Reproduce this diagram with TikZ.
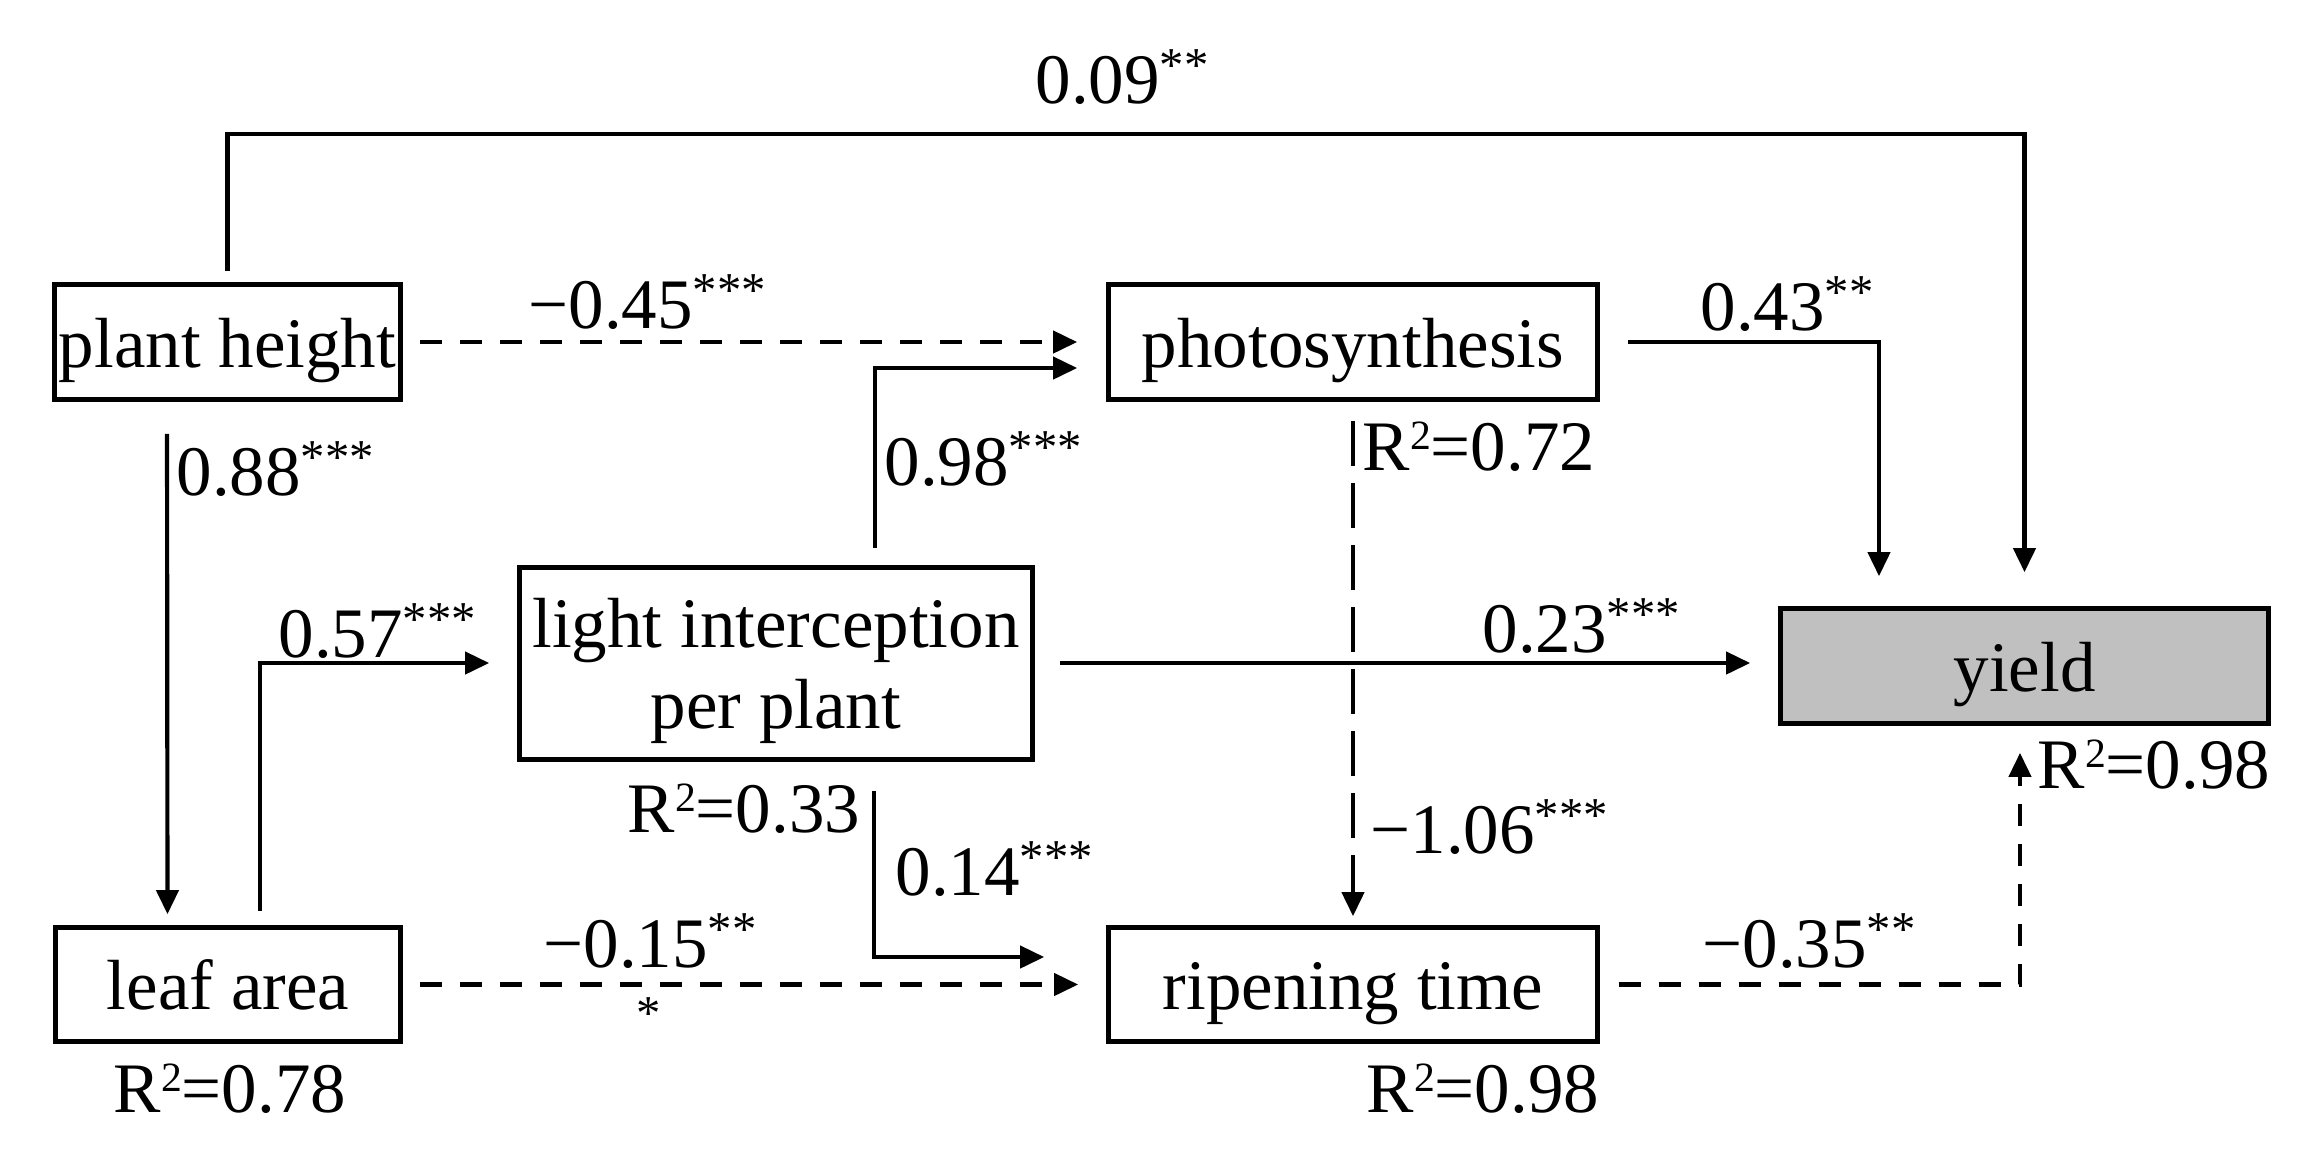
\documentclass[tikz,border=0pt]{standalone}
\usepackage{fontspec}
\setmainfont{Liberation Serif}
\usetikzlibrary{arrows.meta}
\definecolor{yieldgray}{HTML}{C0C0C0}
\newcommand\sig[1]{\raisebox{6.5pt}{\fontsize{14.6}{15}\selectfont #1}}
\newcommand\rsq{R\raisebox{6.3pt}{\fontsize{12.5}{12.5}\selectfont 2}}
\begin{document}
\begin{tikzpicture}[x=0.3pt,y=-0.3pt,
  font=\fontsize{21.3}{24.3}\selectfont,
  box/.style={draw, line width=1.5pt, inner sep=0pt, text height=15pt, text depth=0pt, align=center},
  lbl/.style={anchor=base west, inner sep=0pt},
  conn/.style={line width=1.25pt, -{Triangle[length=7.2pt,width=6.6pt]}},
  dsh/.style={conn, dash pattern=on 6.6pt off 5.4pt},
  ldsh/.style={conn, dash pattern=on 13.5pt off 5.1pt}]
\useasboundingbox (0,0) rectangle (2319,1157);

% boxes
\node[box, minimum width=103.7pt, minimum height=34.4pt] (PH) at (227.5,342) {plant height};
\node[box, minimum width=103.4pt, minimum height=34.1pt] (LA) at (228,984.5) {leaf area};
\node[box, text height=39.3pt, minimum width=153.8pt, minimum height=57.6pt] (LI) at (776,663) {light interception\\per plant};
\node[box, minimum width=146.6pt, minimum height=34.4pt] (PS) at (1353,342) {photosynthesis};
\node[box, minimum width=146.6pt, minimum height=34.1pt] (RT) at (1353,984.5) {ripening time};
\node[box, fill=yieldgray, minimum width=146.3pt, minimum height=34.4pt] (Y) at (2024.5,666) {yield};

% connectors
\draw[conn, shorten <=3.3pt, shorten >=10.2pt] (PH.north) -- ++(0,-148) -| (Y.north);
\draw[dsh, shorten <=5.1pt, shorten >=8.7pt] (PH.east) -- (PS.west);
\draw[conn, shorten <=9.6pt, shorten >=3.3pt] ([xshift=-18.15pt]PH.south) -- ([xshift=-18.15pt]LA.north);
\draw[conn, shorten <=4.2pt, shorten >=8.4pt] ([xshift=9.6pt]LA.north) |- (LI.west);
\draw[conn, shorten <=5.1pt, shorten >=8.7pt] ([xshift=29.7pt]LI.north) |- ([yshift=-7.8pt]PS.west);
\draw[conn, shorten <=7.5pt, shorten >=8.4pt] (LI.east) -- (LI.east -| Y.west);
\draw[conn, shorten <=8.7pt, shorten >=18.6pt] ([xshift=29.4pt]LI.south) |- ([yshift=8.25pt]RT.west);
\draw[conn, shorten <=8.4pt, shorten >=9pt] (PS.east) -| ([xshift=-43.65pt]Y.north);
\draw[ldsh, shorten <=5.7pt, shorten >=2.7pt] (PS.south) -- (RT.north);
\draw[dsh, shorten <=5.1pt, shorten >=8.4pt] (LA.east) -- (RT.west);
\draw[dsh, shorten <=5.7pt, shorten >=8.1pt] (RT.east) -| ([xshift=-1.35pt]Y.south);

% path coefficients
\node[lbl] (c09) at (1035,103) {0.09\sig{**}};
\node[lbl] (c45) at (528,328) {−0.45\sig{***}};
\node[lbl] (c88) at (176,495) {0.88\sig{***}};
\node[lbl] (c57) at (278,657) {0.57\sig{***}};
\node[lbl] (c98) at (884,485) {0.98\sig{***}};
\node[lbl] (c23) at (1482,652) {0.23\sig{***}};
\node[lbl] (c14) at (895,895) {0.14\sig{***}};
\node[lbl] (c43) at (1700,330) {0.43\sig{**}};
\node[lbl] (c106) at (1370,853) {−1.06\sig{***}};
\node[lbl] (c15) at (543,967) {−0.15\sig{**}};
\node[lbl] (c35) at (1702,967) {−0.35\sig{**}};
\node[inner sep=0pt, font=\fontsize{14.6}{15}\selectfont] (cstar) at (649,1014) {*};

% R squared
\node[lbl] (rLA) at (113,1112) {\rsq=0.78};
\node[lbl] (rLI) at (627,832) {\rsq=0.33};
\node[lbl] (rPS) at (1362,470) {\rsq=0.72};
\node[lbl] (rRT) at (1366,1112) {\rsq=0.98};
\node[lbl] (rY) at (2037,788) {\rsq=0.98};
\end{tikzpicture}
\end{document}
